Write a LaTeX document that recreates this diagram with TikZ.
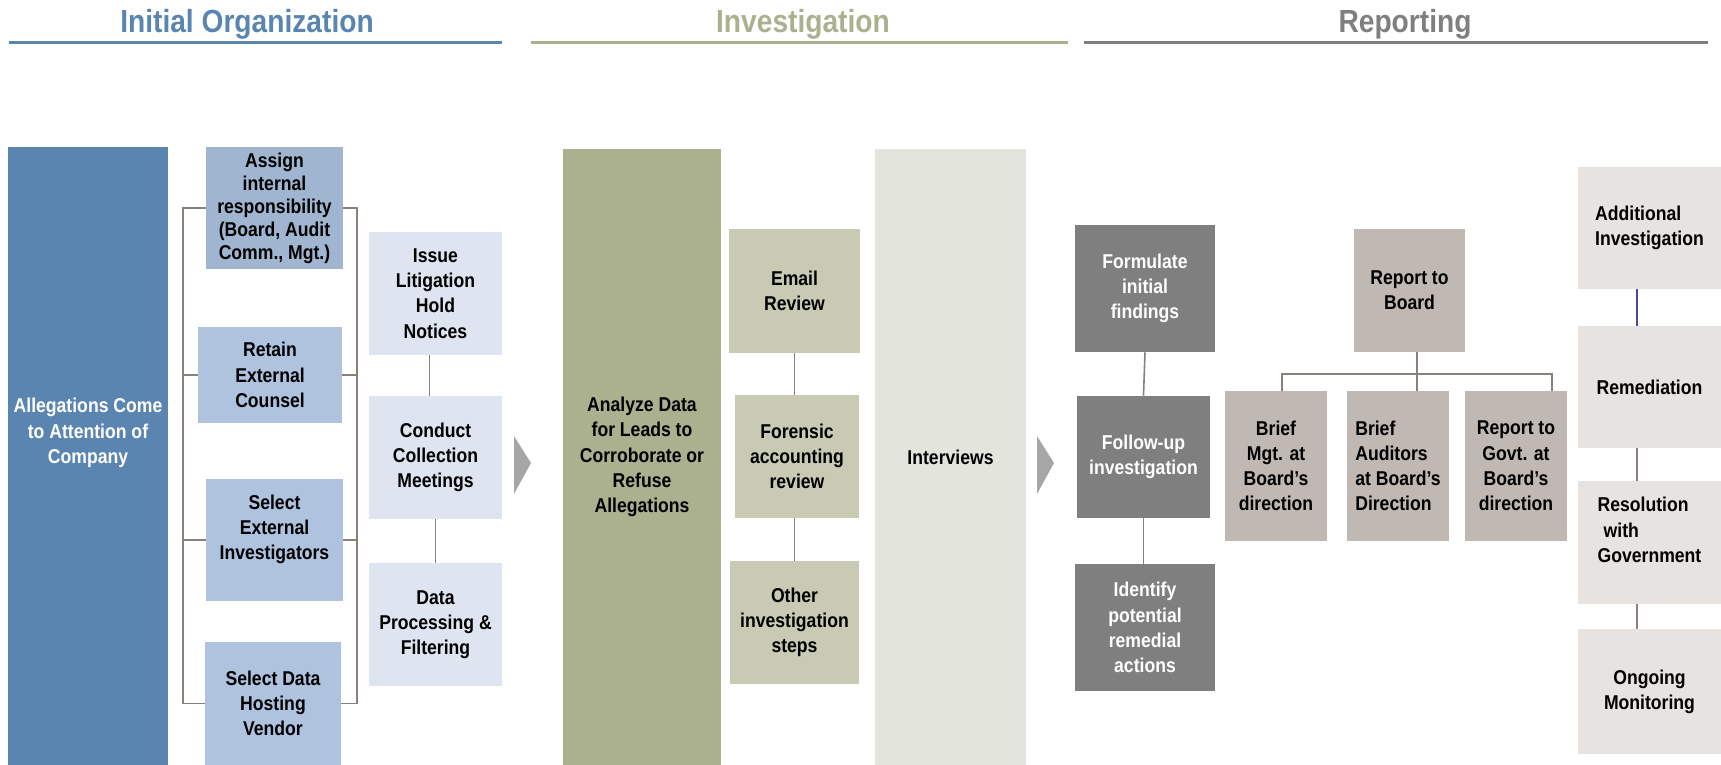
\documentclass[tikz,border=0pt]{standalone}
\usepackage{fontspec}
\setmainfont{Liberation Sans}[FakeStretch=0.88]
\usepackage{tikz}

\definecolor{orgblue}{HTML}{5B85B1}
\definecolor{assignblue}{HTML}{A0B6D0}
\definecolor{midblue}{HTML}{AFC3DF}
\definecolor{paleblue}{HTML}{DEE5F1}
\definecolor{olive}{HTML}{ABB18F}
\definecolor{olivemid}{HTML}{C8CAB4}
\definecolor{olivepale}{HTML}{E3E4DC}
\definecolor{chevgray}{HTML}{A6A6A6}
\definecolor{darkgray}{HTML}{7F7F7F}
\definecolor{warmgray}{HTML}{C0B8B2}
\definecolor{warmpale}{HTML}{E6E3E0}
\definecolor{linegray}{HTML}{8A7F79}
\definecolor{navy}{HTML}{4A4AA0}

\begin{document}
\begin{tikzpicture}[x=0.5pt, y=-0.5pt,
  every node/.style={font=\fontsize{10}{12.6}\selectfont\bfseries, align=center, inner sep=1pt},
  head/.style={font=\fontsize{16}{19}\selectfont\bfseries, anchor=base, text=#1},
  rule/.style={draw=#1, line width=1.2pt},
  link/.style={draw=linegray, line width=0.8pt}]
\useasboundingbox (0,0) rectangle (1721,765);

% phase headings
\node[head=orgblue] (hinit) at (247,33) {Initial Organization};
\node[head=olive] (hinv) at (803,33) {Investigation};
\node[head=darkgray] (hrep) at (1405,33) {Reporting};
\draw[rule=orgblue] (9,42.5) -- (502,42.5);
\draw[rule=olive] (531,42.5) -- (1068,42.5);
\draw[rule=darkgray] (1084,42.5) -- (1708,42.5);

% initial organization
\node[fill=orgblue, text=white, minimum width=80pt, minimum height=309pt] (alleg) at (88,456) {Allegations Come\\to Attention of\\Company\\~\\~};
\node[fill=assignblue, minimum width=68.5pt, minimum height=61pt, font=\fontsize{10}{11.5}\selectfont\bfseries] (assign) at (274.5,208) {Assign\\internal\\responsibility\\(Board, Audit\\Comm., Mgt.)};
\node[fill=midblue, minimum width=72pt, minimum height=48pt] (retain) at (270,375) {Retain\\External\\Counsel};
\node[fill=midblue, minimum width=68.5pt, minimum height=61pt] (selinv) at (274.5,540) {Select\\External\\Investigators\\~};
\node[fill=midblue, minimum width=68pt, minimum height=61.5pt] (selhost) at (273,703.5) {Select Data\\Hosting\\Vendor};
\node[fill=paleblue, minimum width=66.5pt, minimum height=61.5pt] (issue) at (435.5,293.5) {Issue\\Litigation\\Hold\\Notices};
\node[fill=paleblue, minimum width=66.5pt, minimum height=61.5pt] (conduct) at (435.5,457.5) {Conduct\\Collection\\Meetings};
\node[fill=paleblue, minimum width=66.5pt, minimum height=61.5pt] (dataproc) at (435.5,624.5) {Data\\Processing \&\\Filtering};

\coordinate (lbar) at (183,0);
\coordinate (rbar) at (357,0);
\draw[link] (assign.west) -| (lbar |- selhost.west) -- (selhost.west);
\draw[link] (retain.west) -- (lbar |- retain.west);
\draw[link] (selinv.west) -- (lbar |- selinv.west);
\draw[link] (assign.east) -| (rbar |- selhost.east) -- (selhost.east);
\draw[link] (retain.east) -- (rbar |- retain.east);
\draw[link] (selinv.east) -- (rbar |- selinv.east);
\draw[link] ([xshift=-3pt]issue.south) -- ([xshift=-3pt]conduct.north);
\draw[link] (conduct.south) -- (dataproc.north);

\fill[chevgray] (514,436) -- (531,463) -- (514,494) -- cycle;

% investigation
\node[fill=olive, minimum width=79pt, minimum height=308pt] (analyze) at (642,457) {Analyze Data\\for Leads to\\Corroborate or\\Refuse\\Allegations};
\node[fill=olivemid, minimum width=65.5pt, minimum height=62pt] (email) at (794.5,291) {Email\\Review};
\node[fill=olivemid, minimum width=62pt, minimum height=61.5pt] (forensic) at (797,456.5) {Forensic\\accounting\\review};
\node[fill=olivemid, minimum width=64.5pt, minimum height=61.5pt] (other) at (794.5,622.5) {Other\\investigation\\steps};
\node[fill=olivepale, minimum width=75.5pt, minimum height=308pt] (interviews) at (950.5,457) {Interviews};

\draw[link] (email.south) -- (email.south |- forensic.north);
\draw[link] (forensic.south -| email.south) -- (other.north -| email.south);

\fill[chevgray] (1037,436) -- (1054,463) -- (1037,494) -- cycle;

% reporting
\node[fill=darkgray, text=white, minimum width=70pt, minimum height=63.5pt] (formulate) at (1145,288.5) {Formulate\\initial\\findings};
\node[fill=darkgray, text=white, minimum width=66.5pt, minimum height=61pt] (followup) at (1143.5,457) {Follow-up\\investigation};
\node[fill=darkgray, text=white, minimum width=70pt, minimum height=63.5pt] (identify) at (1145,627.5) {Identify\\potential\\remedial\\actions};
\draw[link] (formulate.south) -- (followup.north);
\draw[link] (followup.south) -- (followup.south |- identify.north);

\node[fill=warmgray, minimum width=55.5pt, minimum height=61.5pt] (board) at (1409.5,290.5) {Report to\\Board};
\node[fill=warmgray, minimum width=51pt, minimum height=75pt] (briefmgt) at (1276,466) {Brief\\Mgt. at\\Board's\\direction};
\node[fill=warmgray, minimum width=51pt, minimum height=75pt, align=left] (briefaud) at (1398,466) {Brief\\Auditors\\at Board's\\Direction};
\node[fill=warmgray, minimum width=51pt, minimum height=75pt] (govt) at (1516,466) {Report to\\Govt. at\\Board's\\direction};

\coordinate (tree) at (0,374);
\coordinate (stem) at (1417,0);
\coordinate (tl) at ([xshift=3pt]briefmgt.north);
\coordinate (tr) at ([xshift=18pt]govt.north);
\draw[link] (board.south -| stem) -- (briefaud.north -| stem);
\draw[link] (tl) |- (tr |- tree) -- (tr);

\node[fill=warmpale, minimum width=71.5pt, minimum height=61pt, align=left] (addinv) at (1649.5,228) {Additional\\Investigation};
\node[fill=warmpale, minimum width=71.5pt, minimum height=61pt] (remed) at (1649.5,387) {Remediation};
\node[fill=warmpale, minimum width=71.5pt, minimum height=61.5pt, align=left] (resol) at (1649.5,542.5) {Resolution\\\hspace{3pt}with\\Government\\~};
\node[fill=warmpale, minimum width=71.5pt, minimum height=62.5pt] (ongoing) at (1649.5,691.5) {Ongoing\\Monitoring};

\coordinate (rcol) at (1637,0);
\draw[link, draw=navy] (addinv.south -| rcol) -- (remed.north -| rcol);
\draw[link] (remed.south -| rcol) -- (resol.north -| rcol);
\draw[link] (resol.south -| rcol) -- (ongoing.north -| rcol);
\end{tikzpicture}
\end{document}
